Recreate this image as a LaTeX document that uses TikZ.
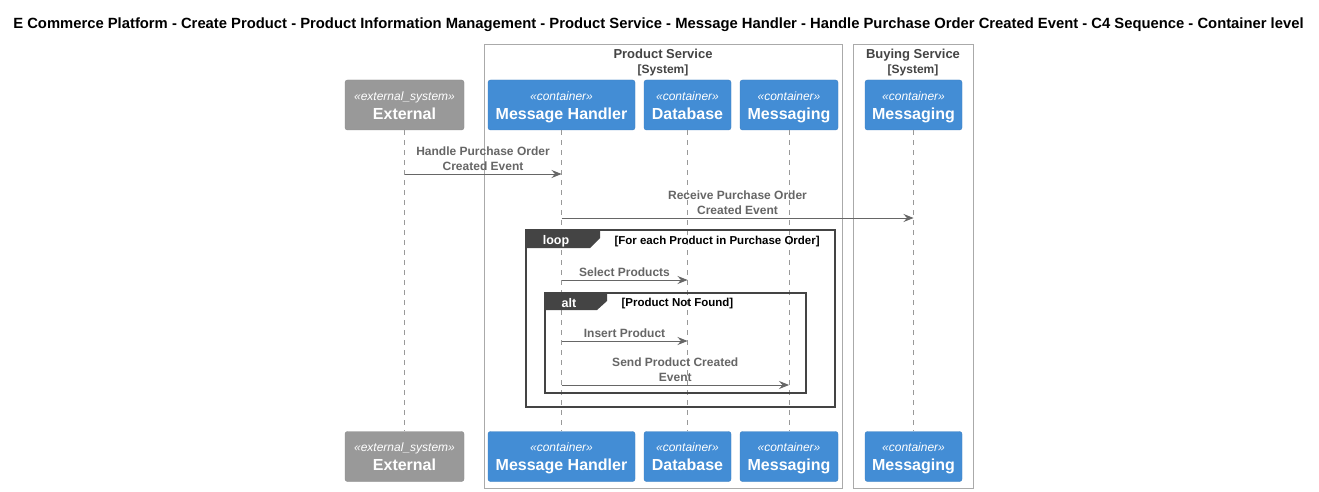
\documentclass[tikz,border=0pt]{standalone}
\usepackage{fontspec}
\setmainfont{Liberation Sans}
\usetikzlibrary{arrows.meta,positioning}

\definecolor{ctrblue}{HTML}{438DD5}
\definecolor{ctrborder}{HTML}{3C7FC0}
\definecolor{extgrey}{HTML}{999999}
\definecolor{extborder}{HTML}{8A8A8A}
\definecolor{msggrey}{HTML}{666666}
\definecolor{framedark}{HTML}{444444}
\definecolor{sysgrey}{HTML}{AAAAAA}

\newcommand{\stereo}[1]{{\fontsize{12}{14}\selectfont\itshape «#1»\rule{0pt}{15pt}}}
\newcommand{\ctrname}[1]{{\bfseries #1\strut}}

\tikzset{
  ctrbox/.style={draw=ctrborder, fill=ctrblue, text=white, rounded corners=2.5pt,
    align=center, minimum height=50pt, inner sep=0pt, font=\fontsize{16}{19}\selectfont},
  extbox/.style={ctrbox, draw=extborder, fill=extgrey},
  lifeline/.style={draw=extgrey, line width=0.6pt, dash pattern=on 5pt off 5pt},
  msg/.style={draw=msggrey, line width=0.9pt, -{Stealth[length=10pt,width=8pt,inset=3.5pt]}},
  msglabel/.style={text=msggrey, font=\fontsize{12}{15}\selectfont\bfseries, align=center, inner sep=2.5pt},
  sysbox/.style={draw=sysgrey, line width=0.8pt},
  syslabel/.style={font=\fontsize{13}{15}\selectfont\bfseries, text=framedark, align=center},
  fragment/.style={draw=framedark, line width=1.3pt},
  fragtab/.style={fill=framedark},
  fragname/.style={text=white, font=\fontsize{12.5}{14}\selectfont\bfseries},
  fragcond/.style={font=\fontsize{11.5}{13}\selectfont\bfseries, anchor=west},
}

\begin{document}
\begin{tikzpicture}[x=1pt,y=-1pt]
  \useasboundingbox[fill=white] (0,0) rectangle (1319,492);

  \node[font=\fontsize{14.8}{17}\selectfont\bfseries] (title) at (658.5,25)
    {E Commerce Platform - Create Product - Product Information Management - Product Service - Message Handler - Handle Purchase Order Created Event - C4 Sequence - Container level};

  % system boundaries
  \draw[sysbox] (484,44) rectangle (842,488);
  \draw[sysbox] (853,44) rectangle (973,488);
  \node[syslabel] (prodsys) at (663,63)
    {Product Service\\{\fontsize{12}{14}\selectfont [System]}};
  \node[syslabel] (buysys) at (913,63)
    {Buying Service\\{\fontsize{12}{14}\selectfont [System]}};

  % participants, top
  \node[extbox, minimum width=119pt] (extA) at (404.5,105) {\stereo{external\_system}\\\ctrname{External}};
  \node[ctrbox, minimum width=147pt] (mhA) at (561.5,105) {\stereo{container}\\\ctrname{Message Handler}};
  \node[ctrbox, minimum width=87pt] (dbA) at (687.5,105) {\stereo{container}\\\ctrname{Database}};
  \node[ctrbox, minimum width=98pt] (msgA) at (789,105) {\stereo{container}\\\ctrname{Messaging}};
  \node[ctrbox, minimum width=97pt] (buyA) at (913.5,105) {\stereo{container}\\\ctrname{Messaging}};

  % participants, bottom
  \node[extbox, minimum width=119pt] (extB) at (404.5,456.5) {\stereo{external\_system}\\\ctrname{External}};
  \node[ctrbox, minimum width=147pt] (mhB) at (561.5,456.5) {\stereo{container}\\\ctrname{Message Handler}};
  \node[ctrbox, minimum width=87pt] (dbB) at (687.5,456.5) {\stereo{container}\\\ctrname{Database}};
  \node[ctrbox, minimum width=98pt] (msgB) at (789,456.5) {\stereo{container}\\\ctrname{Messaging}};
  \node[ctrbox, minimum width=97pt] (buyB) at (913.5,456.5) {\stereo{container}\\\ctrname{Messaging}};

  % lifelines
  \foreach \p in {ext,mh,db,msg,buy}
    \draw[lifeline] (\p A) -- (\p B);

  % fragments
  \draw[fragment] (526,230) rectangle (835,407);
  \fill[fragtab] (526,230) -- (600,230) -- (600,238) -- (590,248) -- (526,248) -- cycle;
  \node[fragname] (looptag) at (556,241.5) {loop};
  \node[fragcond] (loopcond) at (611,241.5) {[For each Product in Purchase Order]};

  \draw[fragment] (545,293) rectangle (806,393);
  \fill[fragtab] (545,293) -- (607,293) -- (607,301) -- (597,310) -- (545,310) -- cycle;
  \node[fragname] (alttag) at (569,303) {alt};
  \node[fragcond] (altcond) at (618,303.5) {[Product Not Found]};

  % messages
  \draw[msg] (extA |- 0,174) -- (mhA |- 0,174)
    node[msglabel, midway, above] {Handle Purchase Order\\Created Event};
  \draw[msg] (mhA |- 0,218) -- (buyA |- 0,218)
    node[msglabel, midway, above] {Receive Purchase Order\\Created Event};
  \draw[msg] (mhA |- 0,280) -- (dbA |- 0,280)
    node[msglabel, midway, above] {Select Products};
  \draw[msg] (mhA |- 0,341) -- (dbA |- 0,341)
    node[msglabel, midway, above] {Insert Product};
  \draw[msg] (mhA |- 0,385) -- (msgA |- 0,385)
    node[msglabel, midway, above] {Send Product Created\\Event};
\end{tikzpicture}
\end{document}
